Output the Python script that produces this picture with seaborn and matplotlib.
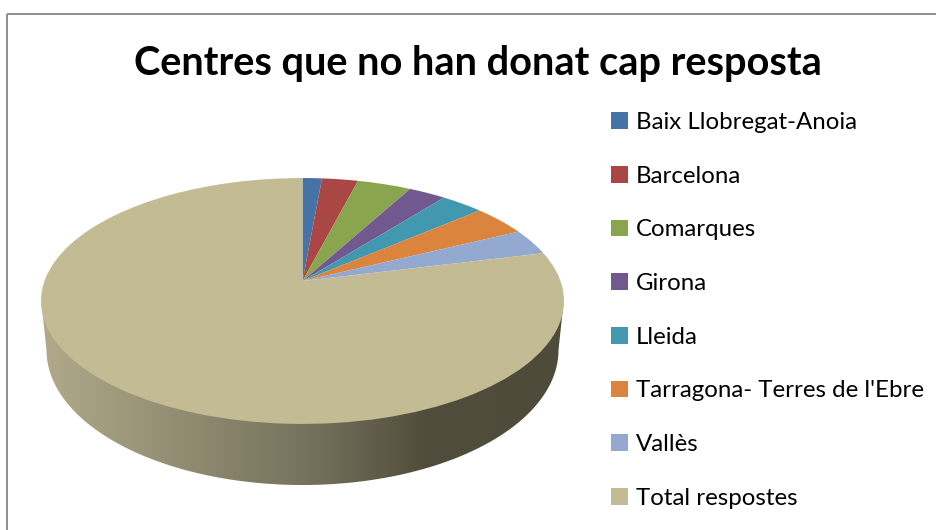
import numpy as np
import matplotlib
matplotlib.use("Agg")
import matplotlib.pyplot as plt
import seaborn as sns
from matplotlib.colors import LinearSegmentedColormap
from matplotlib.patches import Polygon, Rectangle
from matplotlib.transforms import Transform

# Values (share of the pie, %)
labels = ["Baix Llobregat-Anoia", "Barcelona", "Comarques", "Girona", "Lleida",
          "Tarragona- Terres de l'Ebre", "Vallès", "Total respostes"]
values = [1.4, 2.6, 3.9, 2.7, 3.1, 4.0, 3.4, 78.8]
colors = ["#4572A7", "#AA4643", "#89A54E", "#71588F", "#4198AF", "#DB843D", "#93A9CF", "#C3BB94"]
title = "Centres que no han donat cap resposta"

sns.set_theme(style="white")
plt.rcParams['font.family'] = ['Lato', 'DejaVu Sans']

W, H = 937, 530
APEX_X, APEX_Y = 302.5, 281
TILT = 0.1626   # perspective of the tilted disc
SCALE_X, SCALE_Y = 258, 119.7


class TiltedDisc(Transform):
    # maps the unit circle of ax.pie to the tilted top face, in pixels
    input_dims = 2
    output_dims = 2

    def transform_non_affine(self, points):
        pts = np.asarray(points, dtype=float)
        u, v = pts[:, 0], pts[:, 1]
        d = 1 + TILT * v
        return np.column_stack([APEX_X + SCALE_X * u / d, APEX_Y - SCALE_Y * v / d])


fig = plt.figure(figsize=(W / 100, H / 100), dpi=100)
ax = fig.add_axes([0, 0, 1, 1])

wedges, _ = ax.pie(values, colors=sns.color_palette(colors), startangle=90,
                   counterclock=False, wedgeprops={'linewidth': 0}, normalize=True)
disc = TiltedDisc() + ax.transData
for w in wedges:
    w.set_transform(disc)
    w.set_zorder(3)

# Side wall of the disc: horizontal gradient clipped to the lower outline
t = np.linspace(0, np.pi, 200)
wall_x = 302.5 - 256 * np.cos(t)
wall_y = 350 + 135 * np.sin(t)
outline = np.column_stack([np.r_[41.5, wall_x, 563.5], np.r_[303, wall_y, 303]])
wall_cmap = LinearSegmentedColormap.from_list(
    "wall", [(0, "#B0AA8A"), (0.5, "#77735D"), (0.74, "#514D3C"), (1, "#4F4B3A")])
img = ax.imshow(np.linspace(0, 1, 256)[None, :], cmap=wall_cmap, aspect='auto',
                extent=[41, 564, 490, 290], zorder=2)
clip = Polygon(outline, closed=True, transform=ax.transData, facecolor='none', edgecolor='none')
ax.add_patch(clip)
img.set_clip_path(clip)

ax.set_aspect('auto')
ax.set_xlim(0, W)
ax.set_ylim(H, 0)
ax.axis('off')

# Chart frame, only top and left are inside the picture
ax.add_patch(Rectangle((7, 14), 1200, 800, facecolor='none', edgecolor='#8E8E8E',
                       linewidth=1.4, zorder=1))

ax.text(478, 63, title, fontsize=28.6, fontweight='bold', color='black', ha='center', va='center')

leg = ax.legend(wedges, labels, loc='upper left', bbox_to_anchor=(611 / W, 1 - 112 / H),
                frameon=False, fontsize=17.3, borderpad=0, borderaxespad=0,
                labelspacing=1.36, handlelength=0.7, handleheight=0.7, handletextpad=0.33)
for txt in leg.get_texts():
    txt.set_color('black')

fig.savefig('out.png', dpi=100)
